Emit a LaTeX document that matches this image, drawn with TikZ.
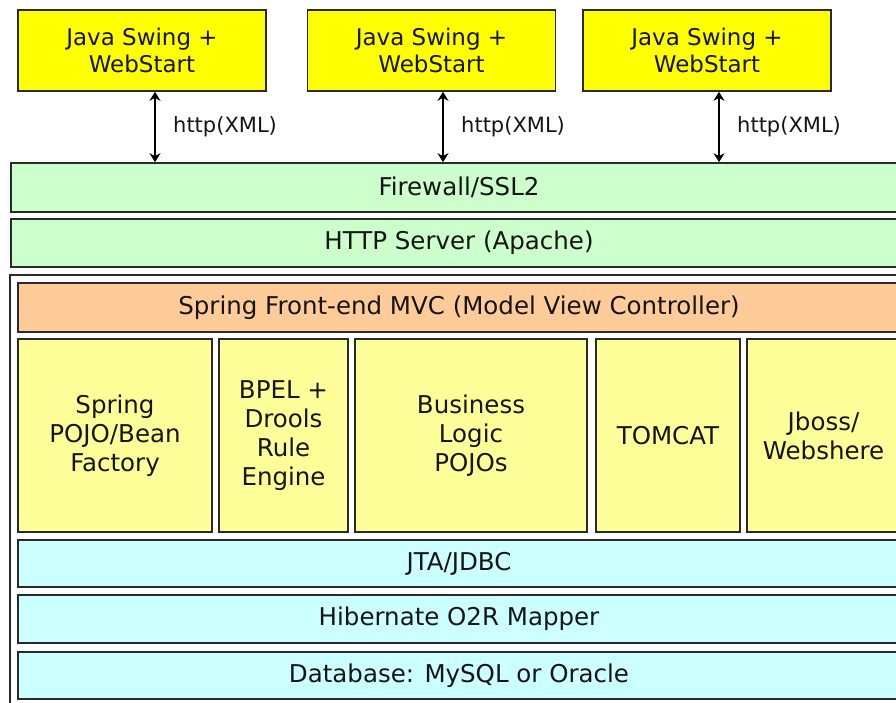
\documentclass[tikz,border=0pt]{standalone}
\usepackage{fontspec}
\setmainfont{DejaVu Sans}
\usetikzlibrary{arrows.meta}
\definecolor{boxline}{HTML}{2A2A2A}
\definecolor{clientfill}{HTML}{FFFF00}
\definecolor{greenfill}{HTML}{CCFFCC}
\definecolor{orangefill}{HTML}{FFCC99}
\definecolor{paleyellow}{HTML}{FFFF99}
\definecolor{cyanfill}{HTML}{CCFFFF}
\definecolor{txt}{HTML}{151515}
\begin{document}
\begin{tikzpicture}[x=1pt,y=-1pt,
  layer/.style={draw=boxline, line width=1.6pt, inner sep=0pt, align=center,
    text=txt, font=\fontsize{24.5}{29}\selectfont},
  client/.style={layer, fill=clientfill, minimum width=248pt, minimum height=81pt,
    font=\fontsize{23}{27}\selectfont},
  netbar/.style={layer, fill=greenfill, minimum width=896pt},
  mvcbar/.style={layer, fill=orangefill, minimum width=882pt, minimum height=49pt},
  component/.style={layer, fill=paleyellow, minimum height=193pt},
  databar/.style={layer, fill=cyanfill, minimum width=882pt},
  frame/.style={draw=boxline, line width=1.6pt, inner sep=0pt},
  biarrow/.style={line width=2.4pt, {Stealth[length=9pt,width=11pt]}-{Stealth[length=9pt,width=11pt]}},
  linklabel/.style={inner sep=0pt, text=txt, font=\fontsize{21}{25}\selectfont}]
\useasboundingbox (0,0) rectangle (896,702);
\clip (0,0) rectangle (896,702);

% clients
\node[client] (c1) at (142,50.5) {Java Swing +\\WebStart};
\node[client] (c2) at (431.5,50.5) {Java Swing +\\WebStart};
\node[client] (c3) at (707,50.5) {Java Swing +\\WebStart};

% network layers
\node[netbar, minimum height=49pt] (fw) at (459,187.5) {Firewall/SSL2};
\node[netbar, minimum height=48pt] (http) at (459,243) {HTTP Server (Apache)};

% server frame
\node[frame, minimum width=905pt, minimum height=440pt] (frame) at (462.5,495) {};

\node[mvcbar] (mvc) at (459,307.5) {Spring Front-end MVC (Model View Controller)};

\node[component, minimum width=194pt] (pojo) at (115,435.5) {Spring\\POJO/Bean\\Factory};
\node[component, minimum width=129pt] (bpel) at (283.5,435.5) {BPEL +\\Drools\\Rule\\Engine};
\node[component, minimum width=232pt] (logic) at (471,435.5) {Business\\Logic\\POJOs};
\node[component, minimum width=144pt] (tomcat) at (668,435.5) {TOMCAT};
\node[component, minimum width=153pt] (jboss) at (823.5,435.5) {Jboss/\\Webshere};

\node[databar, minimum height=47pt] (jta) at (459,563.5) {JTA/JDBC};
\node[databar, minimum height=48pt] (hib) at (459,619) {Hibernate O2R Mapper};
\node[databar, minimum height=47pt] (db) at (459,675.5) {Database: MySQL or Oracle};

% links
\draw[biarrow] ([xshift=13pt]c1.south) -- ([xshift=13pt]c1.south |- fw.north)
  node[midway, right=17pt, linklabel] (l1) {http(XML)};
\draw[biarrow] ([xshift=11.5pt]c2.south) -- ([xshift=11.5pt]c2.south |- fw.north)
  node[midway, right=17pt, linklabel] (l2) {http(XML)};
\draw[biarrow] ([xshift=12pt]c3.south) -- ([xshift=12pt]c3.south |- fw.north)
  node[midway, right=17pt, linklabel] (l3) {http(XML)};
\end{tikzpicture}
\end{document}
